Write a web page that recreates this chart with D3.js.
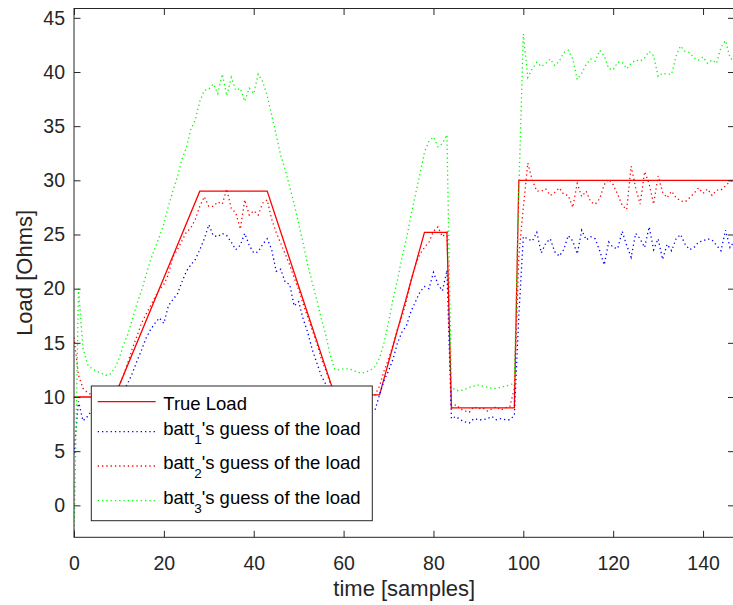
<!DOCTYPE html>
<html><head><meta charset="utf-8">
<script src="https://cdn.jsdelivr.net/npm/d3@7/dist/d3.min.js"></script>
<style>
body{margin:0;background:#fff;}
svg{display:block;font-family:"Liberation Sans",Arial,Helvetica,sans-serif;}
</style>
</head><body>
<svg id="chart" width="733" height="605"></svg>
<script>
// ---- data ----
const samples = d3.range(0, 148);

const trueLoadT = [0, 9, 28, 43, 58, 68, 78, 83, 84, 98, 99, 147];
const trueLoadV = [10, 10, 29, 29, 10.2, 10.2, 25.2, 25.2, 9, 9, 30, 30];

const batt1 = [
 4.8, 9.6, 7.8, 8.2, 8.8, 9.0, 9.0, 8.8, 9.0, 9.3,
 9.8, 10.5, 11.3, 12.2, 13.3, 14.3, 15.4, 16.2, 16.8, 17.3,
 16.8, 18.4, 19.0, 19.5, 20.6, 21.6, 22.2, 22.7, 23.6, 24.6,
 25.9, 24.9, 24.8, 25.1, 24.9, 24.3, 23.6, 24.0, 25.1, 24.0,
 23.3, 23.4, 24.1, 24.6, 23.6, 21.6, 21.8, 20.6, 20.4, 18.4,
 18.8, 17.2, 16.0, 14.4, 13.2, 12.0, 11.2, 10.4, 9.6, 9.2,
 9.0, 9.0, 8.9, 9.0, 9.0, 8.9, 8.8, 8.8, 10.2, 11.5,
 12.4, 13.5, 15.0, 16.0, 16.6, 17.9, 18.8, 19.7, 20.2, 20.0,
 21.5, 20.4, 19.8, 21.7, 8.0, 8.2, 7.9, 7.7, 7.6, 8.0,
 7.9, 7.9, 8.0, 8.2, 7.9, 8.0, 7.9, 7.9, 8.3, 17.5,
 24.8, 24.6, 24.4, 25.2, 23.3, 24.2, 24.6, 23.4, 23.0, 23.6,
 24.9, 24.4, 23.2, 25.4, 24.5, 24.8, 24.6, 23.5, 22.2, 24.3,
 23.8, 23.7, 25.3, 24.0, 22.9, 25.1, 24.6, 23.8, 25.7, 23.6,
 24.6, 22.7, 24.1, 23.5, 24.6, 25.0, 24.1, 23.6, 23.8, 24.3,
 24.4, 24.6, 24.5, 24.0, 23.5, 25.4, 23.8, 24.4
];

const batt2 = [
 15.5, 12.0, 10.8, 10.4, 10.2, 10.1, 10.0, 10.0, 10.1, 10.4,
 11.0, 12.0, 13.2, 14.5, 15.6, 16.8, 17.6, 18.4, 19.2, 19.9,
 20.4, 21.3, 22.9, 23.6, 24.4, 25.2, 25.6, 26.4, 27.6, 28.5,
 27.6, 27.6, 28.0, 27.8, 29.2, 27.4, 27.0, 25.5, 28.2, 26.8,
 27.2, 26.8, 27.9, 28.2, 26.4, 25.2, 24.2, 23.2, 22.2, 21.0,
 19.9, 18.6, 17.4, 16.2, 15.0, 13.6, 12.5, 11.3, 10.6, 10.3,
 10.2, 10.2, 10.2, 10.2, 10.2, 10.2, 10.2, 10.2, 11.0, 12.4,
 13.5, 14.8, 16.3, 17.4, 18.9, 20.8, 22.2, 23.2, 23.8, 24.3,
 25.3, 25.7, 24.8, 25.2, 9.0, 9.3, 8.9, 8.7, 8.6, 9.1,
 8.9, 9.0, 8.7, 8.9, 9.1, 8.8, 9.0, 9.1, 10.8, 23.0,
 27.5, 31.6, 30.0, 29.0, 29.0, 29.2, 28.6, 28.9, 29.3, 28.7,
 28.6, 27.5, 29.7, 28.5, 29.0, 28.0, 27.8, 28.3, 29.6, 30.1,
 29.6, 28.7, 27.7, 27.3, 31.3, 29.3, 27.8, 30.8, 29.7, 27.8,
 30.4, 28.9, 28.4, 29.0, 28.4, 28.1, 28.0, 28.4, 28.8, 29.3,
 28.8, 29.2, 28.6, 29.1, 29.1, 29.5, 29.9, 30.1
];

const batt3 = [
 -3.5, 20.0, 14.5, 13.0, 12.6, 12.4, 12.2, 12.0, 12.1, 12.6,
 13.5, 14.8, 15.8, 17.2, 18.6, 19.8, 21.2, 22.6, 23.7, 24.8,
 26.0, 27.6, 29.0, 30.3, 31.9, 33.0, 34.7, 35.6, 37.3, 38.3,
 38.4, 38.9, 38.0, 39.8, 37.8, 39.5, 38.3, 38.5, 37.3, 38.5,
 38.0, 39.8, 39.1, 37.8, 36.0, 34.2, 32.3, 31.0, 29.4, 27.8,
 26.0, 24.2, 22.2, 20.6, 19.0, 17.3, 15.8, 13.9, 12.6, 12.5,
 12.6, 12.6, 12.5, 12.3, 12.2, 12.3, 12.5, 12.8, 13.6, 15.0,
 16.9, 19.0, 20.8, 22.9, 24.6, 26.8, 28.7, 30.6, 32.6, 33.6,
 34.0, 33.1, 33.4, 34.2, 10.9, 10.6, 10.6, 10.7, 10.9, 11.0,
 11.1, 11.0, 10.9, 10.8, 10.8, 10.9, 11.0, 11.1, 11.3, 29.0,
 43.5, 39.5, 40.3, 40.9, 40.5, 40.8, 41.2, 40.6, 41.0, 41.8,
 42.0, 41.2, 39.3, 39.9, 40.7, 41.2, 41.0, 42.0, 41.5, 40.3,
 40.2, 40.9, 40.9, 40.3, 40.8, 41.1, 41.0, 41.3, 41.9, 41.5,
 39.6, 39.9, 39.8, 39.8, 41.5, 42.4, 41.9, 41.8, 41.3, 41.1,
 41.4, 40.8, 41.1, 40.8, 42.3, 42.9, 41.3, 41.0
];

const xTicks = [0, 20, 40, 60, 80, 100, 120, 140];
const yTicks = [0, 5, 10, 15, 20, 25, 30, 35, 40, 45];
const legendLabels = ["True Load", "batt", "batt", "batt"];
const legendSubs = [null, "1", "2", "3"];
const legendTail = "'s guess of the load";

// ---- layout ----
const L = 74, R = 734.5, T = 8.5, B = 537.3;
const axisColor = "#262626";

const svg = d3.select("#chart");
const x = d3.scaleLinear().domain([0, 147]).range([L, R]);
const y = d3.scaleLinear().domain([-2.95, 45.86]).range([B, T]);

svg.append("defs").append("clipPath").attr("id", "clip")
  .append("rect").attr("x", L).attr("y", T).attr("width", R - L).attr("height", B - T);

const plot = svg.append("g").attr("clip-path", "url(#clip)");

const lineGen = d3.line().x(d => x(d[0])).y(d => y(d[1]));

// true load
plot.append("path")
  .datum(trueLoadT.map((t, i) => [t, trueLoadV[i]]))
  .attr("d", lineGen).attr("fill", "none")
  .attr("stroke", "#ff0000").attr("stroke-width", 1.3);

const series = [
  {vals: batt1, color: "#0000ff"},
  {vals: batt2, color: "#ff0000"},
  {vals: batt3, color: "#00ff00"}
];
series.forEach(s => {
  plot.append("path")
    .datum(samples.map((t, i) => [t, s.vals[i]]))
    .attr("d", lineGen).attr("fill", "none")
    .attr("stroke", s.color).attr("stroke-width", 1.3)
    .attr("stroke-dasharray", "1.3,3");
});

// ---- axes ----
const xAxisB = d3.axisBottom(x).tickValues(xTicks).tickSizeInner(-6.5).tickSizeOuter(0).tickPadding(18.5);
const gxb = svg.append("g").attr("transform", `translate(0,${B})`).call(xAxisB);
const xAxisT = d3.axisTop(x).tickValues(xTicks).tickSizeInner(-6.5).tickSizeOuter(0).tickFormat("");
const gxt = svg.append("g").attr("transform", `translate(0,${T})`).call(xAxisT);
const yAxisL = d3.axisLeft(y).tickValues(yTicks).tickSizeInner(-6.5).tickSizeOuter(0).tickPadding(9);
const gyl = svg.append("g").attr("transform", `translate(${L},0)`).call(yAxisL);
const yAxisR = d3.axisRight(y).tickValues(yTicks).tickSizeInner(-6.5).tickSizeOuter(0).tickFormat("");
const gyr = svg.append("g").attr("transform", `translate(${R},0)`).call(yAxisR);

[gxb, gxt, gyl, gyr].forEach(g => {
  g.select(".domain").remove();
  g.selectAll(".tick line").attr("stroke", axisColor).attr("stroke-width", 1);
  g.selectAll(".tick text").attr("fill", axisColor).attr("font-size", 19.5)
   .attr("font-family", '"Liberation Sans", Arial, sans-serif');
});

svg.append("rect").attr("x", L).attr("y", T).attr("width", R - L).attr("height", B - T)
  .attr("fill", "none").attr("stroke", axisColor).attr("stroke-width", 1);

// axis labels
svg.append("text").attr("x", (L + R) / 2).attr("y", 595.5)
  .attr("text-anchor", "middle").attr("font-size", 22).attr("fill", axisColor)
  .text("time [samples]");
svg.append("text").attr("transform", `translate(31.5,${(T + B) / 2}) rotate(-90)`)
  .attr("text-anchor", "middle").attr("font-size", 22).attr("fill", axisColor)
  .text("Load [Ohms]");

// ---- legend ----
const lg = svg.append("g");
lg.append("rect").attr("x", 91.3).attr("y", 386).attr("width", 281).attr("height", 134.7)
  .attr("fill", "#fff").attr("stroke", axisColor).attr("stroke-width", 1);
const lineYs = [401.7, 431.7, 466, 500.7];
const baseYs = [410, 435, 469.3, 504];
const legColors = ["#ff0000", "#0000ff", "#ff0000", "#00ff00"];
legendLabels.forEach((lab, i) => {
  const ln = lg.append("line").attr("x1", 97.7).attr("x2", 155.7)
    .attr("y1", lineYs[i]).attr("y2", lineYs[i])
    .attr("stroke", legColors[i]).attr("stroke-width", 1.3);
  if (i > 0) ln.attr("stroke-dasharray", "1.3,3");
  const t = lg.append("text").attr("x", 163.3).attr("y", baseYs[i])
    .attr("font-size", 18.5).attr("fill", "#000");
  t.append("tspan").text(lab);
  if (legendSubs[i]) {
    t.append("tspan").attr("font-size", 13.5).attr("dy", 8.5).text(legendSubs[i]);
    t.append("tspan").attr("dy", -8.5).text(legendTail);
  }
});
</script>
</body></html>
